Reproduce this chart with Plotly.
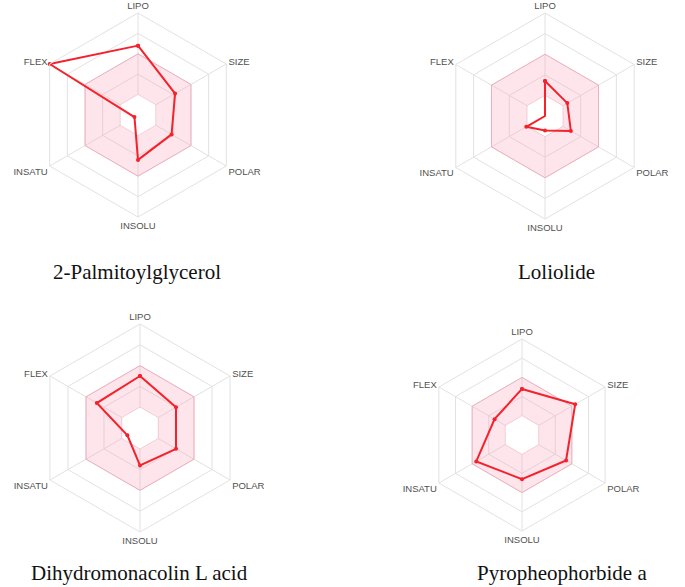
import plotly.graph_objects as go

axes = ["LIPO", "SIZE", "POLAR", "INSOLU", "INSATU", "FLEX"]
compounds = ["2-Palmitoylglycerol", "Loliolide", "Dihydromonacolin L acid", "Pyropheophorbide a"]

palmitoylglycerol = [3.4, 2.1, 1.9, 2.2, 0.2, 5.0]
loliolide = [1.7, 1.25, 1.45, 0.7, 1.05, 0.0]
dihydromonacolin = [2.5, 2.0, 2.0, 1.8, 0.7, 2.4]
pyropheophorbide = [2.4, 3.2, 2.65, 2.3, 2.75, 1.65]

optimal_upper = [3, 3, 3, 3, 3, 3]
optimal_lower = [1, 1, 1, 1, 1, 1]

series = [palmitoylglycerol, loliolide, dihydromonacolin, pyropheophorbide]

W, H = 685, 587


def square_domain(cx, cy, r):
    # centre/radius in pixels -> paper domain
    return dict(x=[(cx - r) / W, (cx + r) / W], y=[1 - (cy + r) / H, 1 - (cy - r) / H])


domains = [
    square_domain(138, 115, 102),
    square_domain(545, 116, 103),
    square_domain(140, 428, 104),
    square_domain(522, 435, 96),
]
captions_xy = [(0.200, 0.537), (0.813, 0.537), (0.203, 0.024), (0.820, 0.024)]

grid = "#e2e2e2"

fig = go.Figure()

for i, vals in enumerate(series):
    sp = "polar" if i == 0 else "polar%d" % (i + 1)
    theta = axes + [axes[0]]
    fig.add_trace(go.Scatterpolar(r=optimal_upper + [optimal_upper[0]], theta=theta, subplot=sp,
                                  mode="lines", fill="toself", fillcolor="rgba(250,150,175,0.25)",
                                  line=dict(color="rgba(240,150,170,0.6)", width=1),
                                  hoverinfo="skip", showlegend=False))
    fig.add_trace(go.Scatterpolar(r=optimal_lower + [optimal_lower[0]], theta=theta, subplot=sp,
                                  mode="lines", fill="toself", fillcolor="white",
                                  line=dict(color="rgba(240,150,170,0.25)", width=1),
                                  hoverinfo="skip", showlegend=False))
    fig.add_trace(go.Scatterpolar(r=vals + [vals[0]], theta=theta, subplot=sp,
                                  mode="lines+markers",
                                  line=dict(color="#f5212b", width=2),
                                  marker=dict(color="#f5212b", size=4),
                                  name=compounds[i], showlegend=False))

    polar_layout = dict(
        domain=domains[i],
        gridshape="linear",
        bgcolor="white",
        radialaxis=dict(range=[0, 5], tickvals=[1, 2, 3, 4, 5], showticklabels=False,
                        ticks="", showline=False, gridcolor=grid, gridwidth=1),
        angularaxis=dict(rotation=90, direction="clockwise", categoryorder="array",
                         categoryarray=axes, showline=True, linecolor=grid, linewidth=1,
                         gridcolor=grid, ticks="",
                         tickfont=dict(family="Liberation Sans", size=9.5, color="#505050")),
    )
    fig.update_layout(**{sp: polar_layout})

    cx, cy = captions_xy[i]
    fig.add_annotation(x=cx, y=cy, xref="paper", yref="paper", text=compounds[i],
                       showarrow=False, xanchor="center", yanchor="middle",
                       font=dict(family="Liberation Serif", size=21, color="#111111"))

fig.update_layout(width=W, height=H, margin=dict(l=0, r=0, t=0, b=0),
                  paper_bgcolor="white", plot_bgcolor="white")

fig.write_html("out.html", config={"displayModeBar": False},
               post_script="document.body.style.margin='0';")
